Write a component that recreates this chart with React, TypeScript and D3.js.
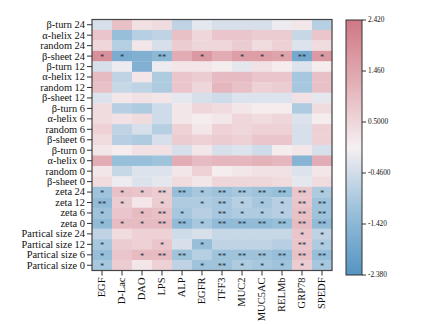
import React from "react";
import * as d3 from "d3";

const rowLabels = [
  "β-turn 24", "α-helix 24", "random 24", "β-sheet 24",
  "β-turn 12", "α-helix 12", "random 12", "β-sheet 12",
  "β-turn 6", "α-helix 6", "random 6", "β-sheet 6",
  "β-turn 0", "α-helix 0", "random 0", "β-sheet 0",
  "zeta 24", "zeta 12", "zeta 6", "zeta 0",
  "Partical size 24", "Partical size 12", "Partical size 6", "Partical size 0",
];

const colLabels = ["EGF", "D-Lac", "DAO", "LPS", "ALP", "EGFR", "TFF3", "MUC2", "MUC5AC", "RELMb", "GRP78", "SPEDF"];

const values: number[][] = [
  [-0.4, 0.9, 0.3, 0.4, -0.7, -0.2, -0.4, -0.4, -0.4, -0.1, 0.2, -0.8],
  [0.8, -1.2, -0.8, -0.7, 0.9, 0.5, 0.8, 0.8, 0.7, 0.7, -0.6, 0.8],
  [0.5, -0.8, 0.2, -0.4, 0.7, 0.5, 0.5, 0.7, 0.4, 0.6, -0.3, 0.4],
  [1.9, -1.7, -1.6, -1.4, 1.3, 1.7, 1.3, 1.6, 1.6, 1.5, -1.8, 1.7],
  [-0.4, -0.1, -1.6, -0.1, 0.2, 0.2, 0.1, -0.2, 0.3, 0.1, -0.3, 0.1],
  [1.0, -0.7, 0.2, -0.9, 0.8, 0.7, 1.0, 1.0, 0.8, 0.8, -1.0, 0.9],
  [0.9, -0.6, -0.7, -0.9, 0.8, 0.5, 1.1, 0.9, 0.6, 0.7, -1.0, 0.9],
  [-0.3, 0.2, 0.3, 0.2, -0.2, -0.4, -0.5, -0.3, -0.3, -0.3, 0.3, -0.2],
  [0.4, -0.8, -0.9, -0.5, 0.2, 0.5, 0.4, 0.2, 0.1, 0.1, -0.9, 0.4],
  [0.4, 0.3, 0.4, -0.5, 0.2, 0.1, 0.2, 0.5, 0.4, 0.5, -0.3, 0.1],
  [0.6, -0.7, -0.4, -0.8, 0.6, 0.2, 0.6, 0.5, 0.6, 0.6, -0.4, 0.6],
  [0.4, -0.8, -0.9, -0.4, 0.7, 0.6, 0.7, 0.6, 0.8, 0.8, -0.4, 0.6],
  [0.2, 0.1, 0.3, 0.3, -0.4, 0.2, -0.4, -0.3, -0.5, 0.1, 0.2, -0.4],
  [1.3, -1.2, -1.2, -1.1, 1.3, 1.0, 1.1, 1.1, 1.2, 1.1, -1.5, 1.3],
  [0.2, -0.6, -0.3, -0.3, 0.2, 0.6, 0.1, 0.2, 0.3, 0.3, -0.3, 0.2],
  [0.4, -0.1, -0.3, -0.2, 0.4, 0.2, 0.5, 0.5, 0.5, 0.4, -0.2, 0.4],
  [-1.1, 0.9, 0.8, 0.7, -1.2, -1.0, -1.1, -1.0, -1.1, -1.2, 0.8, -0.9],
  [-1.3, 0.7, 0.2, 0.7, -0.9, -0.9, -1.0, -0.8, -1.0, -0.8, 0.8, -1.1],
  [-1.1, 0.8, 1.0, 0.9, -1.0, -0.8, -1.0, -0.9, -0.9, -0.8, 0.9, -1.1],
  [-1.3, 1.0, 1.0, 1.0, -1.3, -1.0, -1.3, -1.3, -1.3, -1.2, 1.0, -1.3],
  [-0.7, 0.4, 0.6, 0.6, -0.5, -0.4, -0.6, -0.6, -0.6, -0.6, 0.8, -0.7],
  [-1.0, 0.7, 0.6, 0.8, -0.4, -1.2, -0.7, -0.7, -0.7, -0.8, 0.8, -0.9],
  [-1.2, 0.8, 1.0, 1.0, -1.1, -0.8, -1.1, -1.1, -1.1, -1.2, 0.9, -1.2],
  [-1.0, 0.7, 0.2, 0.6, -0.7, -1.1, -1.1, -0.9, -1.0, -1.1, 0.7, -1.0],
];

const stars: string[][] = [
  ["", "", "", "", "", "", "", "", "", "", "", ""],
  ["", "", "", "", "", "", "", "", "", "", "", ""],
  ["", "", "", "", "", "", "", "", "", "", "", ""],
  ["*", "*", "", "**", "", "*", "", "*", "*", "*", "**", "*"],
  ["", "", "", "", "", "", "", "", "", "", "", ""],
  ["", "", "", "", "", "", "", "", "", "", "", ""],
  ["", "", "", "", "", "", "", "", "", "", "", ""],
  ["", "", "", "", "", "", "", "", "", "", "", ""],
  ["", "", "", "", "", "", "", "", "", "", "", ""],
  ["", "", "", "", "", "", "", "", "", "", "", ""],
  ["", "", "", "", "", "", "", "", "", "", "", ""],
  ["", "", "", "", "", "", "", "", "", "", "", ""],
  ["", "", "", "", "", "", "", "", "", "", "", ""],
  ["", "", "", "", "", "", "", "", "", "", "", ""],
  ["", "", "", "", "", "", "", "", "", "", "", ""],
  ["", "", "", "", "", "", "", "", "", "", "", ""],
  ["*", "*", "*", "**", "**", "*", "**", "**", "**", "**", "**", "*"],
  ["**", "*", "", "*", "", "*", "**", "*", "*", "*", "**", "**"],
  ["*", "", "*", "**", "*", "", "**", "*", "*", "*", "**", "**"],
  ["*", "*", "*", "**", "**", "*", "**", "**", "**", "**", "**", "**"],
  ["", "", "", "", "", "", "", "", "", "", "*", "*"],
  ["*", "", "", "*", "", "*", "", "", "", "", "**", "*"],
  ["*", "", "*", "**", "**", "", "**", "**", "**", "**", "**", "**"],
  ["*", "", "", "", "", "*", "**", "*", "*", "*", "*", "*"],
];

const colorTicks = [2.42, 1.46, 0.5, -0.46, -1.42, -2.38];
const colorTickLabels = ["2.420", "1.460", "0.5000", "-0.4600", "-1.420", "-2.380"];

const FONT = "'Liberation Serif', 'Times New Roman', Times, serif";

export default function App() {
  const W = 423, H = 324;
  const left = 92, right = 332, top = 19.5, bottom = 270.5;

  const x = d3.scaleBand<string>().domain(colLabels).range([left, right]);
  const y = d3.scaleBand<string>().domain(rowLabels).range([top, bottom]);

  const color = d3
    .scaleLinear<string>()
    .domain([-2.38, -1.2, 0.02, 1.22, 2.42])
    .range(["#5594c2", "#98bfda", "#f6f0f2", "#e3b0b7", "#cf7884"])
    .interpolate(d3.interpolateRgb)
    .clamp(true);

  const cbX = 346, cbW = 16, cbTop = 20, cbBottom = 275;
  const cbScale = d3.scaleLinear().domain([-2.38, 2.42]).range([cbBottom, cbTop]);
  const gradStops = d3.range(0, 1.0001, 0.05).map((t) => {
    const v = 2.42 - t * (2.42 + 2.38);
    return { offset: t, c: color(v) };
  });

  return (
    <svg width={W} height={H} style={{ position: "absolute", left: 0, top: 0, background: "#fff" }} fontFamily={FONT}>
      <defs>
        <linearGradient id="cbgrad" x1="0" y1="0" x2="0" y2="1">
          {gradStops.map((s, i) => (
            <stop key={i} offset={s.offset} stopColor={s.c} />
          ))}
        </linearGradient>
      </defs>
      {values.map((row, ri) =>
        row.map((v, ci) => (
          <rect
            key={`c${ri}-${ci}`}
            x={x(colLabels[ci])}
            y={y(rowLabels[ri])}
            width={x.bandwidth() + 0.3}
            height={y.bandwidth() + 0.3}
            fill={color(v)}
          />
        ))
      )}
      {stars.map((row, ri) =>
        row.map((s, ci) =>
          s ? (
            <text
              key={`s${ri}-${ci}`}
              x={(x(colLabels[ci]) as number) + x.bandwidth() / 2}
              y={(y(rowLabels[ri]) as number) + y.bandwidth() / 2 + 4}
              textAnchor="middle"
              fontSize={8.5}
              fill="#22303f"
            >
              {s}
            </text>
          ) : null
        )
      )}
      <rect x={left} y={top} width={right - left} height={bottom - top} fill="none" stroke="#444" strokeWidth={1.2} />
      {rowLabels.map((r) => {
        const cy = (y(r) as number) + y.bandwidth() / 2;
        return (
          <g key={r}>
            <line x1={left - 5} x2={left} y1={cy} y2={cy} stroke="#333" strokeWidth={1} />
            <text x={left - 7} y={cy} dy="0.33em" textAnchor="end" fontSize={10.4} fill="#111">
              {r}
            </text>
          </g>
        );
      })}
      {colLabels.map((c) => {
        const cx = (x(c) as number) + x.bandwidth() / 2;
        return (
          <g key={c}>
            <line x1={cx} x2={cx} y1={bottom} y2={bottom + 5} stroke="#333" strokeWidth={1} />
            <text
              transform={`translate(${cx},${bottom + 7}) rotate(-90)`}
              dy="0.33em"
              textAnchor="end"
              fontSize={10.5}
              fill="#111"
            >
              {c}
            </text>
          </g>
        );
      })}
      <rect x={cbX} y={cbTop} width={cbW} height={cbBottom - cbTop} fill="url(#cbgrad)" stroke="#333" strokeWidth={1} />
      {colorTicks.map((t, i) => {
        const ty = cbScale(t);
        return (
          <g key={t}>
            <line x1={cbX + cbW} x2={cbX + cbW + 4} y1={ty} y2={ty} stroke="#333" strokeWidth={1} />
            <text x={cbX + cbW + 6} y={ty} dy="0.33em" fontSize={7.3} fill="#111">
              {colorTickLabels[i]}
            </text>
          </g>
        );
      })}
    </svg>
  );
}
